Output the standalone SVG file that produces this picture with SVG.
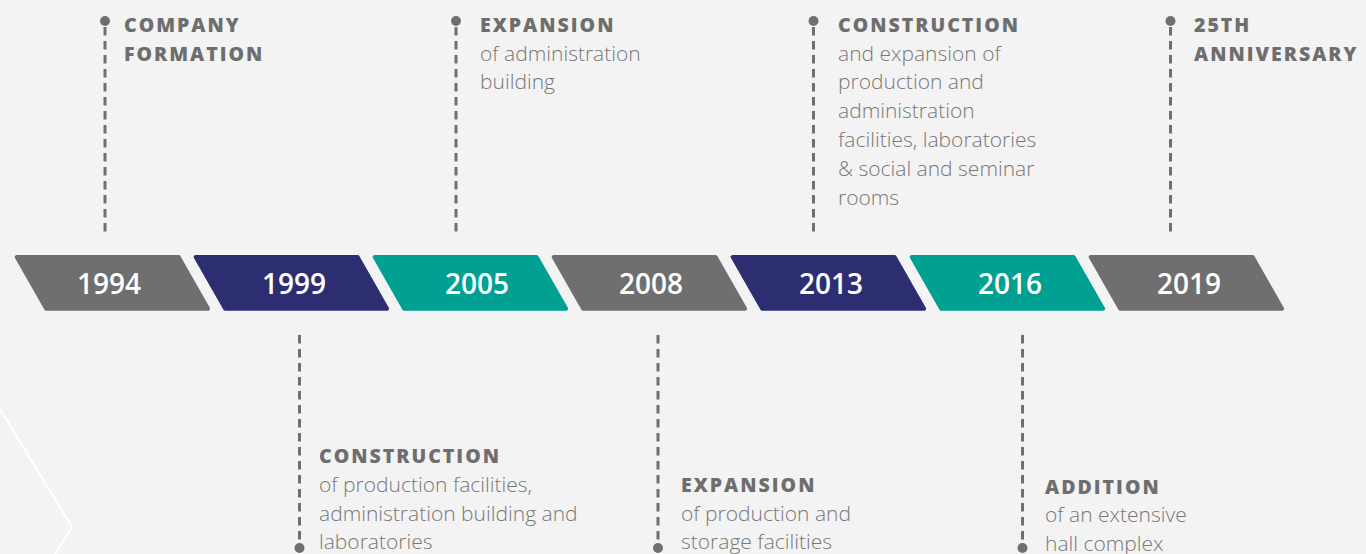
<svg xmlns="http://www.w3.org/2000/svg" width="1366" height="554" viewBox="0 0 1366 554">
<style>
.bar{stroke-width:4;stroke-linejoin:round}
.gray{fill:#6f6f6f;stroke:#6f6f6f}
.navy{fill:#2d2e72;stroke:#2d2e72}
.teal{fill:#00a092;stroke:#00a092}
.year{font-family:"Open Sans","Liberation Sans",sans-serif;font-size:28px;font-weight:600;fill:#ffffff;text-anchor:middle}
.head{font-family:"Open Sans","Liberation Sans",sans-serif;font-size:19.5px;font-weight:800;fill:#6e6e6e;letter-spacing:2px}
.body{font-family:"Open Sans","Liberation Sans",sans-serif;font-size:21px;font-weight:300;fill:#777777}
.dash{stroke:#6f6f6f;stroke-width:3;stroke-dasharray:8.5 5.5;fill:none}
.dot{fill:#6f6f6f}
</style>
<rect x="0" y="0" width="1366" height="554" fill="#f3f3f3"/>
<polyline points="0,409 72,527 55,554" fill="none" stroke="#ffffff" stroke-width="2"/>
<defs>
<polygon id="pg" points="3.4,257 165.3,257 194.8,308.7 32.9,308.7"/>
</defs>
<g id="connectors">
<line class="dash" x1="105" y1="27" x2="105" y2="236"/>
<circle class="dot" cx="105" cy="21" r="5"/>
<line class="dash" x1="456" y1="27" x2="456" y2="236"/>
<circle class="dot" cx="456" cy="21" r="5"/>
<line class="dash" x1="813.5" y1="27" x2="813.5" y2="236"/>
<circle class="dot" cx="813.5" cy="21" r="5"/>
<line class="dash" x1="1170.5" y1="27" x2="1170.5" y2="236"/>
<circle class="dot" cx="1170.5" cy="21" r="5"/>
<line class="dash" x1="299.5" y1="335" x2="299.5" y2="542"/>
<circle class="dot" cx="299.5" cy="548" r="5"/>
<line class="dash" x1="658" y1="335" x2="658" y2="542"/>
<circle class="dot" cx="658" cy="548" r="5"/>
<line class="dash" x1="1022.5" y1="335" x2="1022.5" y2="542"/>
<circle class="dot" cx="1022.5" cy="548" r="5"/>
</g>
<g id="y1994">
<use href="#pg" class="bar gray" transform="translate(13.3,0)"/>
<text class="year" x="109" y="294">1994</text>
<text class="head" x="124" y="32">COMPANY</text>
<text class="head" x="124" y="61">FORMATION</text>
</g>
<g id="y1999">
<use href="#pg" class="bar navy" transform="translate(192.3,0)"/>
<text class="year" x="294" y="294">1999</text>
<text class="head" x="319" y="463">CONSTRUCTION</text>
<text class="body" x="319" y="492">of production facilities,</text>
<text class="body" x="319" y="520.5">administration building and</text>
<text class="body" x="319" y="549">laboratories</text>
</g>
<g id="y2005">
<use href="#pg" class="bar teal" transform="translate(371.3,0)"/>
<text class="year" x="477" y="294">2005</text>
<text class="head" x="480" y="32">EXPANSION</text>
<text class="body" x="480" y="60.5">of administration</text>
<text class="body" x="480" y="89.3">building</text>
</g>
<g id="y2008">
<use href="#pg" class="bar gray" transform="translate(550.3,0)"/>
<text class="year" x="651" y="294">2008</text>
<text class="head" x="681" y="492">EXPANSION</text>
<text class="body" x="681" y="520.5">of production and</text>
<text class="body" x="681" y="549">storage facilities</text>
</g>
<g id="y2013">
<use href="#pg" class="bar navy" transform="translate(729.3,0)"/>
<text class="year" x="831" y="294">2013</text>
<text class="head" x="838" y="32">CONSTRUCTION</text>
<text class="body" x="838" y="60.5">and expansion of</text>
<text class="body" x="838" y="89.3">production and</text>
<text class="body" x="838" y="118">administration</text>
<text class="body" x="838" y="147">facilities, laboratories</text>
<text class="body" x="838" y="175.8">&amp; social and seminar</text>
<text class="body" x="838" y="204.6">rooms</text>
</g>
<g id="y2016">
<use href="#pg" class="bar teal" transform="translate(908.3,0)"/>
<text class="year" x="1010" y="294">2016</text>
<text class="head" x="1045" y="493.5">ADDITION</text>
<text class="body" x="1045" y="522">of an extensive</text>
<text class="body" x="1045" y="550.5">hall complex</text>
</g>
<g id="y2019">
<use href="#pg" class="bar gray" transform="translate(1087.3,0)"/>
<text class="year" x="1189" y="294">2019</text>
<text class="head" x="1194" y="32">25TH</text>
<text class="head" x="1194" y="61">ANNIVERSARY</text>
</g>
</svg>
